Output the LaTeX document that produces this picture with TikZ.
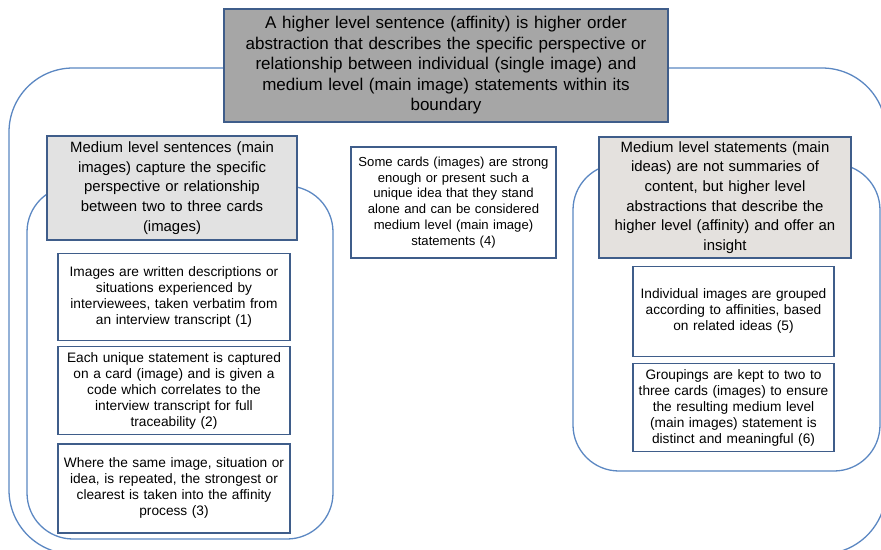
\documentclass[tikz,border=0pt]{standalone}
\usepackage{fontspec}
\setmainfont{Liberation Sans}
\usetikzlibrary{positioning}
\definecolor{boxline}{HTML}{3F5D8A}
\definecolor{groupline}{HTML}{5B87C2}
\definecolor{topfill}{HTML}{A6A6A6}
\definecolor{midfill}{HTML}{E2E2E2}
\definecolor{midfillwarm}{HTML}{E4E1DE}
\begin{document}
\begin{tikzpicture}[x=1pt,y=-1pt,
  group/.style={draw=groupline,line width=1.3pt},
  box/.style={draw=boxline,line width=1.3pt,align=center,inner sep=0pt},
  topbox/.style={box,fill=topfill,font=\fontsize{17}{20.5}\selectfont},
  midbox/.style={box,fill=midfill,font=\fontsize{14.9}{19.7}\selectfont},
  card/.style={box,fill=white,font=\fontsize{13.7}{16}\selectfont},
  alonecard/.style={box,fill=white,font=\fontsize{13.1}{15.8}\selectfont}]
\useasboundingbox (0,0) rectangle (881,549);
\begin{scope}
\clip (0,0) rectangle (881,549);
\draw[group,rounded corners=64pt] (9,68) rectangle (886,554);
\end{scope}
\draw[group,rounded corners=46pt] (27,186) rectangle (333,539);
\draw[group,rounded corners=46pt] (573,164) rectangle (880,471);

\node[topbox,minimum width=444pt,text width=440pt,minimum height=113pt] (higher) at (446,65.5)
  {A higher level sentence (affinity) is higher order\\
   abstraction that describes the specific perspective or\\
   relationship between individual (single image) and\\
   medium level (main image) statements within its\\
   boundary};

\node[midbox,minimum width=250pt,text width=246pt,minimum height=104pt] (mediumleft) at (172,188)
  {Medium level sentences (main\\
   images) capture the specific\\
   perspective or relationship\\
   between two to three cards\\
   (images)};
\node[card,minimum width=232pt,text width=228pt,minimum height=87pt,below=12pt of mediumleft.south,anchor=north,xshift=2pt] (card1)
  {Images are written descriptions or\\
   situations experienced by\\
   interviewees, taken verbatim from\\
   an interview transcript (1)};
\node[card,minimum width=232pt,text width=228pt,minimum height=88pt,below=5pt of card1] (card2)
  {Each unique statement is captured\\
   on a card (image) and is given a\\
   code which correlates to the\\
   interview transcript for full\\
   traceability (2)};
\node[card,minimum width=232pt,text width=228pt,minimum height=89pt,below=8pt of card2] (card3)
  {Where the same image, situation or\\
   idea, is repeated, the strongest or\\
   clearest is taken into the affinity\\
   process (3)};

\node[alonecard,minimum width=205pt,text width=201pt,minimum height=111pt] (card4) at (453.5,202.5)
  {Some cards (images) are strong\\
   enough or present such a\\
   unique idea that they stand\\
   alone and can be considered\\
   medium level (main image)\\
   statements (4)\\[6pt]};

\node[midbox,fill=midfillwarm,minimum width=252pt,text width=248pt,minimum height=121pt] (mediumright) at (725,197.5)
  {Medium level statements (main\\
   ideas) are not summaries of\\
   content, but higher level\\
   abstractions that describe the\\
   higher level (affinity) and offer an\\
   insight};
\node[card,minimum width=201pt,text width=197pt,minimum height=90pt,below=7pt of mediumright.south,anchor=north,xshift=8.5pt] (card5)
  {Individual images are grouped\\
   according to affinities, based\\
   on related ideas (5)};
\node[card,minimum width=201pt,text width=197pt,minimum height=88pt,below=6pt of card5] (card6)
  {Groupings are kept to two to\\
   three cards (images) to ensure\\
   the resulting medium level\\
   (main images) statement is\\
   distinct and meaningful (6)};
\end{tikzpicture}
\end{document}
